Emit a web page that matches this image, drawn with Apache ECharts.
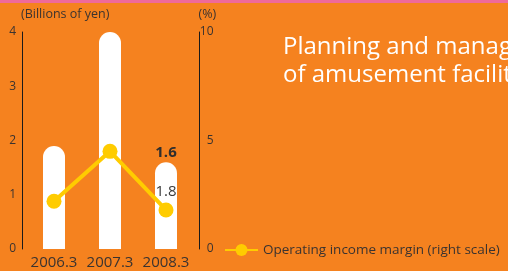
<!DOCTYPE html>
<html>
<head>
<meta charset="utf-8">
<script src="https://cdn.jsdelivr.net/npm/echarts@6/dist/echarts.min.js"></script>
<style>
html,body{margin:0;padding:0;background:#f5821f;}
#c{width:508px;height:271px;}
</style>
</head>
<body>
<div id="c"></div>
<script>
const categories = ['2006.3', '2007.3', '2008.3'];
const salesValues = [1.9, 4.0, 1.6];       // Billions of yen (left scale)
const marginValues = [2.2, 4.5, 1.8];      // % (right scale)
const leftTicks = [0, 1, 2, 3, 4];
const rightTicks = [0, 5, 10];

const FONT = '"Open Sans", "Noto Sans", sans-serif';
const TXT = '#3a3330';
const chart = echarts.init(document.getElementById('c'));
chart.setOption({
  backgroundColor: '#f5821f',
  animation: false,
  graphic: [{
    type: 'rect', shape: {x: 0, y: 0, width: 508, height: 3},
    style: {fill: '#ef6a9a'}
  }],
  title: {
    text: 'Planning and management\nof amusement facilities',
    left: 283, top: 33, padding: 0,
    textStyle: {color: '#ffffff', fontFamily: FONT, fontWeight: 'normal', fontSize: 24, lineHeight: 28}
  },
  legend: {
    data: ['Operating income margin (right scale)'],
    left: 219, top: 238,
    itemWidth: 33, itemHeight: 15, itemGap: 6,
    textStyle: {color: TXT, fontFamily: FONT, fontSize: 13.5}
  },
  grid: {left: 26, right: 314, top: 32, bottom: 22, containLabel: false},
  xAxis: {
    type: 'category', data: categories,
    axisLine: {show: false}, axisTick: {show: false},
    axisLabel: {color: TXT, fontFamily: FONT, fontSize: 15, margin: 6, interval: 0}
  },
  yAxis: [{
    type: 'value', min: leftTicks[0], max: leftTicks[leftTicks.length - 1], interval: 1,
    position: 'left', offset: 4,
    name: '(Billions of yen)', nameLocation: 'end', nameGap: 11,
    nameTextStyle: {color: TXT, fontFamily: FONT, fontSize: 12.5, align: 'left', padding: [0, 0, 0, -1]},
    axisLine: {show: true, lineStyle: {color: '#1a1a1a', width: 1}},
    axisTick: {show: false}, splitLine: {show: false},
    axisLabel: {color: TXT, fontFamily: FONT, fontSize: 12, margin: 6}
  }, {
    type: 'value', min: rightTicks[0], max: rightTicks[rightTicks.length - 1], interval: 5,
    position: 'right', offset: 5.5,
    name: '(%)', nameLocation: 'end', nameGap: 11,
    nameTextStyle: {color: TXT, fontFamily: FONT, fontSize: 12.5, align: 'left', padding: [0, 0, 0, -1]},
    axisLine: {show: true, lineStyle: {color: '#1a1a1a', width: 1}},
    axisTick: {show: false}, splitLine: {show: false},
    axisLabel: {color: TXT, fontFamily: FONT, fontSize: 12, margin: 14, align: 'right'}
  }],
  series: [{
    name: 'Sales', type: 'bar', yAxisIndex: 0, barWidth: 22,
    data: salesValues.map((v, i) => ({
      value: v,
      label: i === salesValues.length - 1 ? {show: true} : {show: false}
    })),
    itemStyle: {color: '#ffffff', borderRadius: [11, 11, 0, 0]},
    label: {position: 'top', distance: 2, color: '#2e2e2e', fontFamily: FONT, fontSize: 15, fontWeight: 'bold'}
  }, {
    name: 'Operating income margin (right scale)', type: 'line', yAxisIndex: 1,
    data: marginValues.map((v, i) => ({
      value: v,
      label: i === marginValues.length - 1 ? {show: true} : {show: false}
    })),
    symbol: 'circle', symbolSize: 15,
    lineStyle: {color: '#ffcc00', width: 4},
    itemStyle: {color: '#ffcc00'},
    label: {position: 'top', distance: 3, color: '#3a3a3a', fontFamily: FONT, fontSize: 15}
  }]
});
</script>
</body>
</html>
